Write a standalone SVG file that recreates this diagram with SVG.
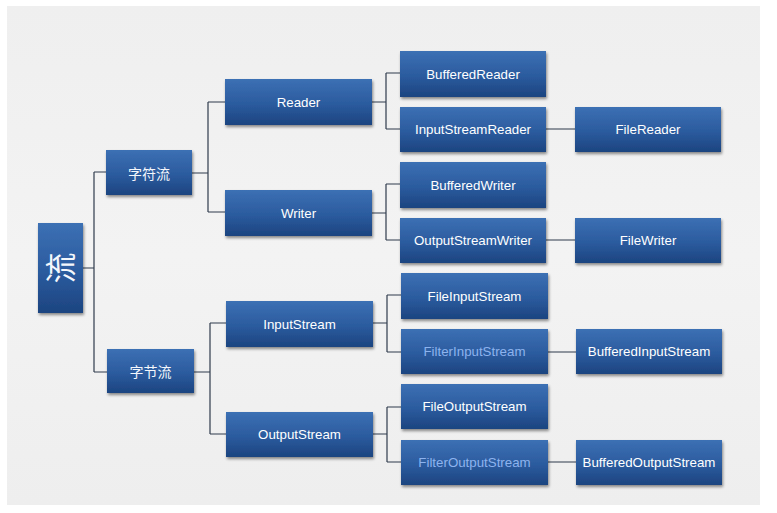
<svg xmlns="http://www.w3.org/2000/svg" width="777" height="513" viewBox="0 0 777 513">
<defs>
<linearGradient id="bg" x1="0" y1="0" x2="0" y2="1">
<stop offset="0" stop-color="#efefef"/>
<stop offset="0.5" stop-color="#f3f3f3"/>
<stop offset="1" stop-color="#eeeeee"/>
</linearGradient>
<linearGradient id="box" x1="0" y1="0" x2="0" y2="1">
<stop offset="0" stop-color="#3c70b4"/>
<stop offset="0.55" stop-color="#2b5b9e"/>
<stop offset="1" stop-color="#1c4480"/>
</linearGradient>
<filter id="sh" x="-10%" y="-10%" width="125%" height="135%">
<feGaussianBlur in="SourceAlpha" stdDeviation="1.5"/>
<feOffset dx="1" dy="2" result="o"/>
<feComponentTransfer><feFuncA type="linear" slope="0.45"/></feComponentTransfer>
<feMerge><feMergeNode/><feMergeNode in="SourceGraphic"/></feMerge>
</filter>
</defs>
<style>
.b{fill:url(#box);filter:url(#sh)}
.t{font-family:"Liberation Sans",Arial,sans-serif;font-size:13.3px;fill:#ffffff;text-anchor:middle;dominant-baseline:central}
.f{fill:#8db3ee}
.c{font-family:"Noto Sans CJK SC",sans-serif;font-size:14px;fill:#f4f7fc;text-anchor:middle;dominant-baseline:central}
.big{font-family:"Noto Sans CJK SC",sans-serif;font-size:31px;fill:#f4f7fc;text-anchor:middle}
.l{fill:none;stroke:#2f3b4c;stroke-width:1.2}
</style>
<rect width="777" height="513" fill="#ffffff"/>
<rect x="7" y="6" width="753" height="499" fill="url(#bg)"/>
<g id="connectors">
<path class="l" d="M83 268H94M94 172V372M94 172H106M94 372H107"/>
<path class="l" d="M192 173H208M208 102V212M208 102H225M208 212H225"/>
<path class="l" d="M194 372H210M210 323V434M210 323H226M210 434H226"/>
<path class="l" d="M372 102H386M386 73V129M386 73H400M386 129H400"/>
<path class="l" d="M372 213H386M386 184V240M386 184H400M386 240H400"/>
<path class="l" d="M373 323H387M387 295V352M387 295H401M387 352H401"/>
<path class="l" d="M373 434H387M387 407V462M387 407H401M387 462H401"/>
<path class="l" d="M546 129H575M546 240H575M548 352H576M548 462H576"/>
</g>
<g id="liu"><rect class="b" x="38" y="223" width="45" height="90"/><g transform="translate(60.5 268) rotate(-90)"><text class="big" x="0" y="11">流</text></g></g>
<g id="zifuliu"><rect class="b" x="106" y="150" width="86" height="45"/><text class="c" x="149" y="172.5">字符流</text></g>
<g id="zijieliu"><rect class="b" x="107" y="349" width="87" height="44"/><text class="c" x="150.5" y="371">字节流</text></g>
<g id="reader"><rect class="b" x="225" y="79" width="147" height="46"/><text class="t" x="298.5" y="102">Reader</text></g>
<g id="writer"><rect class="b" x="225" y="190" width="147" height="46"/><text class="t" x="298.5" y="213">Writer</text></g>
<g id="inputstream"><rect class="b" x="226" y="301" width="147" height="46"/><text class="t" x="299.5" y="324">InputStream</text></g>
<g id="outputstream"><rect class="b" x="226" y="412" width="147" height="45"/><text class="t" x="299.5" y="434.5">OutputStream</text></g>
<g id="bufferedreader"><rect class="b" x="400" y="51" width="146" height="46"/><text class="t" x="473" y="74">BufferedReader</text></g>
<g id="inputstreamreader"><rect class="b" x="400" y="107" width="146" height="45"/><text class="t" x="473" y="129.5">InputStreamReader</text></g>
<g id="bufferedwriter"><rect class="b" x="400" y="162" width="146" height="46"/><text class="t" x="473" y="185">BufferedWriter</text></g>
<g id="outputstreamwriter"><rect class="b" x="400" y="218" width="146" height="45"/><text class="t" x="473" y="240.5">OutputStreamWriter</text></g>
<g id="filereader"><rect class="b" x="575" y="107" width="146" height="45"/><text class="t" x="648" y="129.5">FileReader</text></g>
<g id="filewriter"><rect class="b" x="575" y="218" width="146" height="45"/><text class="t" x="648" y="240.5">FileWriter</text></g>
<g id="fileinputstream"><rect class="b" x="401" y="273" width="147" height="46"/><text class="t" x="474.5" y="296">FileInputStream</text></g>
<g id="filterinputstream"><rect class="b" x="401" y="329" width="147" height="45"/><text class="t f" x="474.5" y="351.5">FilterInputStream</text></g>
<g id="fileoutputstream"><rect class="b" x="401" y="384" width="147" height="45"/><text class="t" x="474.5" y="406.5">FileOutputStream</text></g>
<g id="filteroutputstream"><rect class="b" x="401" y="440" width="147" height="45"/><text class="t f" x="474.5" y="462.5">FilterOutputStream</text></g>
<g id="bufferedinputstream"><rect class="b" x="576" y="329" width="146" height="45"/><text class="t" x="649" y="351.5">BufferedInputStream</text></g>
<g id="bufferedoutputstream"><rect class="b" x="576" y="440" width="146" height="45"/><text class="t" x="649" y="462.5">BufferedOutputStream</text></g>
</svg>
